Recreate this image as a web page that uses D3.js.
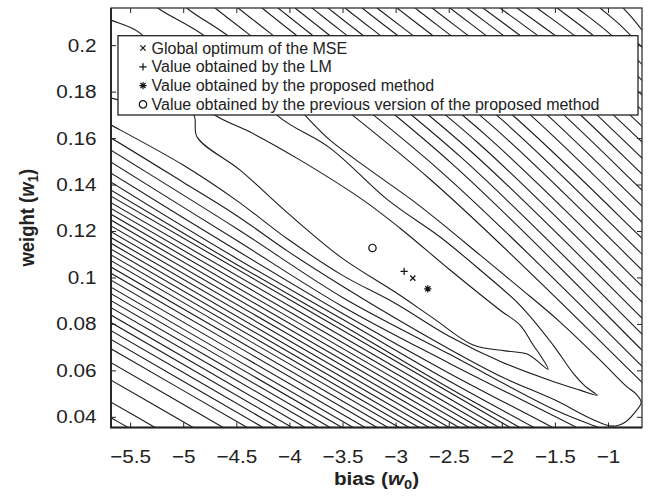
<!DOCTYPE html>
<html>
<head>
<meta charset="utf-8">
<script src="https://cdn.jsdelivr.net/npm/d3@7"></script>
<style>
	body { margin: 0; background: #fff; }
	svg { display: block; font-family: "Liberation Sans", Arial, Helvetica, sans-serif; }
	.contour { fill: none; stroke: #1c1c1c; stroke-width: 1.1; }
	.marker { fill: none; stroke: #111; stroke-width: 1.2; }
</style>
</head>
<body>
<div class="chart"></div>
<script>
var w0Domain = [-5.68, -0.68];
var w1Domain = [0.0354, 0.216];
var xTicks = [-5.5, -5, -4.5, -4, -3.5, -3, -2.5, -2, -1.5, -1];
var yTicks = [0.04, 0.06, 0.08, 0.1, 0.12, 0.14, 0.16, 0.18, 0.2];

//innermost MSE contours round the valley, [w0, w1] vertices
var valley1 = [[-5.735,0.1780],[-5.679,0.1772],[-5.218,0.1729],[-4.907,0.1703],[-4.869,0.1604],[-4.464,0.1462],
	[-3.993,0.1268],[-3.504,0.1083],[-3.005,0.0937],[-2.647,0.0825],[-2.270,0.0709],[-1.969,0.0684],[-1.762,0.0670],
	[-1.564,0.0605],[-1.639,0.0666],[-1.705,0.0709],[-1.828,0.0795],[-2.016,0.0859],[-2.487,0.1032],[-2.958,0.1212],
	[-3.306,0.1333],[-3.899,0.1505],[-4.370,0.1626],[-4.700,0.1698],[-5.029,0.1828],[-5.406,0.2052],[-5.679,0.2108],[-5.782,0.2129]];
var valley2 = [[-5.782,0.1681],[-5.679,0.1656],[-5.001,0.1484],[-4.502,0.1333],[-4.003,0.1161],[-3.504,0.1010],
	[-3.005,0.0889],[-2.496,0.0747],[-1.997,0.0635],[-1.498,0.0549],[-1.263,0.0515],[-1.103,0.0493],[-1.216,0.0532],
	[-1.329,0.0588],[-1.517,0.0709],[-1.828,0.0880],[-2.204,0.1032],[-2.581,0.1174],[-3.071,0.1333],[-3.617,0.1557],
	[-4.116,0.1698],[-4.747,0.2022],[-5.236,0.2159],[-5.312,0.2194]];
var valley3 = [[-5.782,0.1626],[-5.679,0.1600],[-5.001,0.1410],[-4.502,0.1268],[-4.003,0.1109],[-3.504,0.0963],
	[-3.005,0.0825],[-2.496,0.0692],[-1.997,0.0571],[-1.498,0.0472],[-1.169,0.0394],[-0.961,0.0360],[-0.839,0.0377],
	[-0.745,0.0420],[-0.688,0.0463],[-0.735,0.0498],[-0.829,0.0532],[-1.074,0.0644],[-1.451,0.0808],[-1.828,0.0954],
	[-2.204,0.1096],[-2.581,0.1238],[-2.845,0.1333],[-3.240,0.1462],[-3.617,0.1591],[-3.852,0.1698],[-4.464,0.2000],
	[-4.963,0.2159],[-5.029,0.2194]];

//lower wall contours that bend towards the valley tip
var lowerCurved = [
	[[-5.782,0.1578],[-5.679,0.1548],[-4.502,0.1212],[-3.504,0.0915],[-2.496,0.0670],[-1.498,0.0429],[-1.074,0.0351],[-0.886,0.0317]],
	[[-5.782,0.1527],[-5.679,0.1496],[-4.502,0.1161],[-3.504,0.0876],[-2.496,0.0631],[-1.282,0.0351],[-1.074,0.0300]],
	[[-5.782,0.1479],[-5.679,0.1449],[-4.502,0.1118],[-3.504,0.0846],[-2.496,0.0588],[-1.508,0.0351],[-1.263,0.0291]],
	[[-5.782,0.1440],[-5.679,0.1410],[-4.502,0.1083],[-3.504,0.0821],[-2.496,0.0554],[-1.686,0.0351],[-1.451,0.0291]],
	[[-5.782,0.1406],[-5.679,0.1376],[-4.502,0.1057],[-3.504,0.0795],[-2.496,0.0524],[-1.818,0.0351],[-1.592,0.0291]]
];

//lower-left contours: w1 where they meet the left edge, w0 where they meet the bottom
var lowLeftW1 = [0.1350, 0.1322, 0.1297, 0.1272, 0.1247, 0.1222, 0.1197, 0.1172, 0.1147, 0.1122, 0.1097, 0.1072,
	0.1045, 0.1018, 0.0988, 0.0958, 0.0930, 0.0900, 0.0870, 0.0838, 0.0806, 0.0771, 0.0733, 0.0693, 0.0633, 0.0558,
	0.0463, 0.0396];
var lowBottomW0 = [-1.922, -2.025, -2.120, -2.214, -2.308, -2.402, -2.496, -2.590, -2.685, -2.779, -2.873, -2.967,
	-3.071, -3.174, -3.287, -3.400, -3.504, -3.617, -3.730, -3.852, -3.975, -4.106, -4.248, -4.398, -4.624, -4.907,
	-5.265, -5.519];

//upper-right contours: w0 at the top edge, one interior vertex, w1 at the right edge
var upTopW0 = [-4.700, -4.483, -4.257, -4.106, -3.946, -3.786, -3.636, -3.476, -3.315, -3.174, -2.986, -2.816,
	-2.656, -2.487, -2.327, -2.176, -2.016, -1.856, -1.668, -1.479, -1.291, -1.074, -0.858];
var upMidW0 = [-2.689, -2.581, -2.468, -2.393, -2.313, -2.233, -2.157, -2.077, -1.997, -1.927, -1.832, -1.748,
	-1.668, -1.583, -1.503, -1.427, -1.347, -1.267, -1.173, -1.079, -0.985, -0.877, -0.768];
var upMidW1 = [0.1428, 0.1459, 0.1489, 0.1521, 0.1552, 0.1583, 0.1615, 0.1647, 0.1678, 0.1710, 0.1741, 0.1772,
	0.1804, 0.1835, 0.1867, 0.1898, 0.1930, 0.1961, 0.1990, 0.2019, 0.2050, 0.2083, 0.2115];
var upRightW1 = [0.0549, 0.0618, 0.0687, 0.0756, 0.0825, 0.0894, 0.0963, 0.1032, 0.1100, 0.1169, 0.1238, 0.1307,
	0.1376, 0.1445, 0.1514, 0.1583, 0.1651, 0.1720, 0.1785, 0.1849, 0.1918, 0.1991, 0.2065];

//estimates of (w0, w1)
var optimum = [-2.838, 0.0997];
var lmValue = [-2.920, 0.1026];
var proposed = [-2.697, 0.0951];
var previous = [-3.218, 0.1127];
var legendLabels = [
	"Global optimum of the MSE",
	"Value obtained by the LM",
	"Value obtained by the proposed method",
	"Value obtained by the previous version of the proposed method"
];

var width = 651, height = 496;
var x = d3.scaleLinear().domain(w0Domain).range([111, 642]);
var y = d3.scaleLinear().domain(w1Domain).range([427.5, 8]);

var svg = d3.select(".chart").append("svg")
	.attr("width", width)
	.attr("height", height);

svg.append("clipPath").attr("id", "plotclip")
	.append("rect")
	.attr("x", x.range()[0]).attr("y", y.range()[1])
	.attr("width", x.range()[1] - x.range()[0])
	.attr("height", y.range()[0] - y.range()[1]);

var lines = svg.append("g").attr("clip-path", "url(#plotclip)");

var smooth = d3.line()
	.x(function(d){ return x(d[0]) })
	.y(function(d){ return y(d[1]) })
	.curve(d3.curveCatmullRom.alpha(0.5));

var pixelCurve = d3.line().curve(d3.curveCatmullRom.alpha(0.5));

function edgeToEdge(pts) {
	//data vertices -> pixels, with the two ends pushed 15px outwards so the clip cuts them
	var px = pts.map(function(p){ return [x(p[0]), y(p[1])] });
	function push(a, b) {
		var dx = a[0] - b[0], dy = a[1] - b[1], len = Math.sqrt(dx*dx + dy*dy);
		return [a[0] + dx/len*15, a[1] + dy/len*15];
	}
	var n = px.length;
	return [push(px[0], px[1])].concat(px, [push(px[n-1], px[n-2])]);
}

[valley1, valley2, valley3].concat(lowerCurved).map(function(c) {
	lines.append("path").attr("class", "contour").attr("d", smooth(c));
});

lowLeftW1.map(function(v, i) {
	lines.append("path").attr("class", "contour")
		.attr("d", pixelCurve(edgeToEdge([[w0Domain[0], v], [lowBottomW0[i], w1Domain[0]]])));
});

upTopW0.map(function(v, i) {
	lines.append("path").attr("class", "contour")
		.attr("d", pixelCurve(edgeToEdge([[v, w1Domain[1]], [upMidW0[i], upMidW1[i]], [w0Domain[1], upRightW1[i]]])));
});

//markers
function markerPath(kind) {
	if (kind === "x") return "M-2.6,-2.6L2.6,2.6M-2.6,2.6L2.6,-2.6";
	if (kind === "+") return "M-3.6,0H3.6M0,-3.6V3.6";
	if (kind === "*") return "M-3.6,0H3.6M0,-3.6V3.6M-2.6,-2.6L2.6,2.6M-2.6,2.6L2.6,-2.6";
	return d3.arc()({innerRadius: 0, outerRadius: 3.7, startAngle: 0, endAngle: 2*Math.PI});
}
var points = [[optimum, "x"], [lmValue, "+"], [proposed, "*"], [previous, "o"]];
points.map(function(p) {
	svg.append("path").attr("class", "marker")
		.attr("transform", "translate(" + x(p[0][0]) + "," + y(p[0][1]) + ")")
		.attr("d", markerPath(p[1]));
});

//axes, ticks point inwards on every side
var fmt = d3.format("~g");
function styleAxis(g, stretch) {
	g.select(".domain").remove();
	g.selectAll("line").attr("stroke", "#222").attr("stroke-width", 1);
	g.selectAll("text")
		.attr("fill", "#222")
		.attr("font-family", "'Liberation Sans', Arial, sans-serif")
		.attr("font-size", 18.5);
	if (stretch) g.selectAll("text").attr("transform", "scale(1.12,1)");
}

svg.append("g").attr("transform", "translate(0," + y.range()[0] + ")")
	.call(d3.axisBottom(x).tickValues(xTicks).tickFormat(fmt).tickSizeInner(-5).tickSizeOuter(0).tickPadding(22))
	.call(styleAxis, true);
svg.append("g").attr("transform", "translate(" + x.range()[0] + ",0)")
	.call(d3.axisLeft(y).tickValues(yTicks).tickFormat(fmt).tickSizeInner(-5).tickSizeOuter(0).tickPadding(13))
	.call(styleAxis, true);
svg.append("g").attr("transform", "translate(0," + y.range()[1] + ")")
	.call(d3.axisTop(x).tickValues(xTicks).tickFormat("").tickSizeInner(-5).tickSizeOuter(0))
	.call(styleAxis, false);
svg.append("g").attr("transform", "translate(" + x.range()[1] + ",0)")
	.call(d3.axisRight(y).tickValues(yTicks).tickFormat("").tickSizeInner(-5).tickSizeOuter(0))
	.call(styleAxis, false);

svg.append("rect")
	.attr("x", x.range()[0]).attr("y", y.range()[1])
	.attr("width", x.range()[1] - x.range()[0])
	.attr("height", y.range()[0] - y.range()[1])
	.attr("fill", "none").attr("stroke", "#333").attr("stroke-width", 1.3);
svg.append("path")
	.attr("d", "M" + x.range()[0] + "," + y.range()[1] + "V" + y.range()[0] + "H" + x.range()[1])
	.attr("fill", "none").attr("stroke", "#222").attr("stroke-width", 1.8);

//axis titles
var xt = svg.append("text")
	.attr("transform", "translate(" + ((x.range()[0] + x.range()[1])/2) + ",485) scale(1.12,1)")
	.attr("text-anchor", "middle").attr("font-weight", "bold").attr("font-size", 18.5).attr("fill", "#222");
xt.append("tspan").text("bias (");
xt.append("tspan").attr("font-style", "italic").text("w");
xt.append("tspan").attr("font-size", 13).attr("dy", 4).text("0");
xt.append("tspan").attr("dy", -4).text(")");

var yt = svg.append("text")
	.attr("transform", "translate(34," + ((y.range()[0] + y.range()[1])/2) + ") scale(1.12,1) rotate(-90)")
	.attr("text-anchor", "middle").attr("font-weight", "bold").attr("font-size", 18.5).attr("fill", "#222");
yt.append("tspan").text("weight (");
yt.append("tspan").attr("font-style", "italic").text("w");
yt.append("tspan").attr("font-size", 13).attr("dy", 4).text("1");
yt.append("tspan").attr("dy", -4).text(")");

//legend
var legend = svg.append("g");
legend.append("rect")
	.attr("x", 118).attr("y", 35.7).attr("width", 520).attr("height", 79.3)
	.attr("fill", "#fff").attr("stroke", "#222").attr("stroke-width", 1.3);
var kinds = ["x", "+", "*", "o"];
legendLabels.map(function(label, i) {
	var by = 53.5 + i*18.8;
	legend.append("path").attr("class", "marker")
		.attr("transform", "translate(143," + (by - 5.5) + ")")
		.attr("d", markerPath(kinds[i]));
	legend.append("text")
		.attr("x", 151.5).attr("y", by)
		.attr("font-size", 16).attr("fill", "#222")
		.text(label);
});
</script>
</body>
</html>
